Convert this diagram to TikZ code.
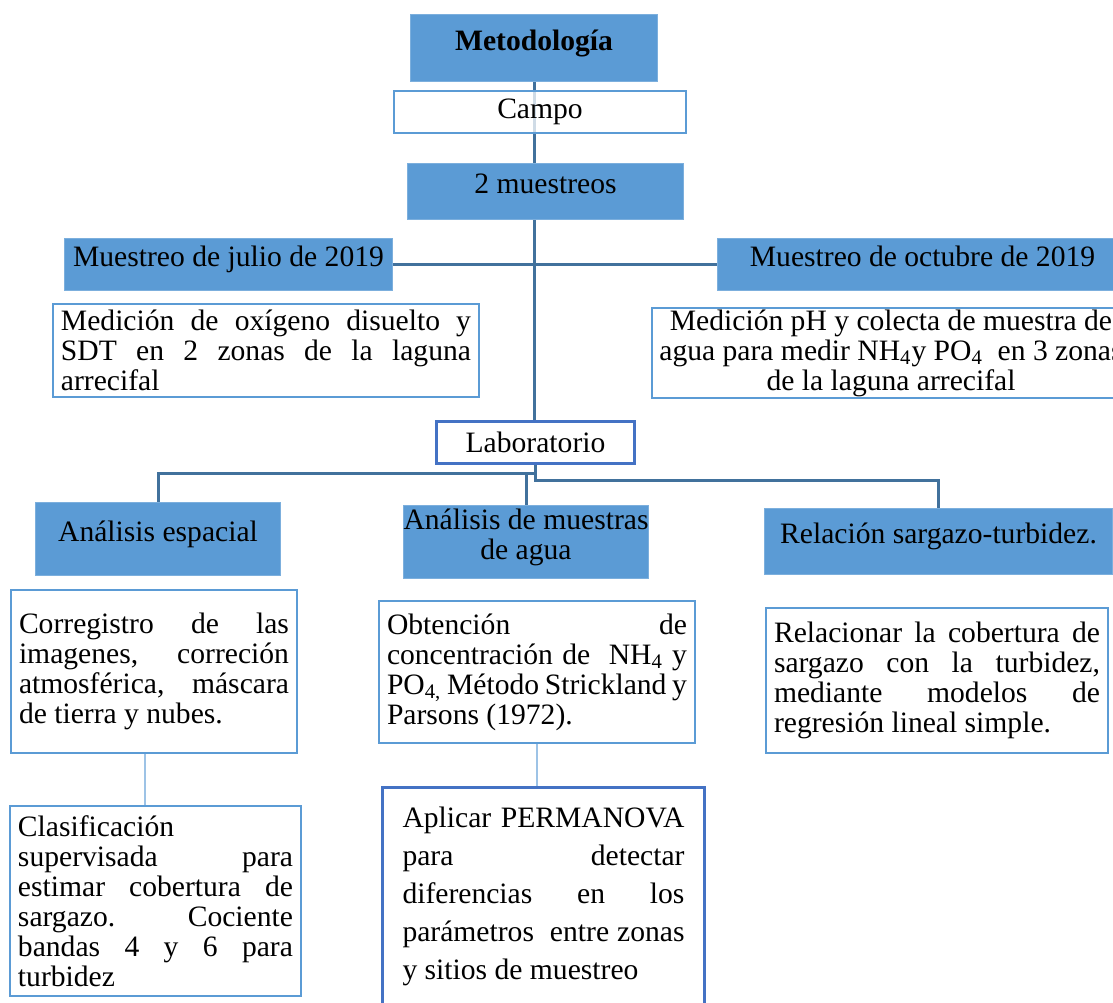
\documentclass[tikz,border=0pt]{standalone}
\usepackage{fontspec}
\setmainfont{Liberation Serif}
\usetikzlibrary{positioning,calc,backgrounds}
\definecolor{azul}{RGB}{91,155,213}
\definecolor{azulosc}{RGB}{65,113,156}
\definecolor{azulmed}{RGB}{68,114,196}
\definecolor{azulcla}{RGB}{157,195,230}
\hyphenpenalty=10000
\tolerance=10000

\tikzset{
  caja/.style={rectangle,anchor=north west,inner xsep=4pt,inner ysep=0pt,
    font=\fontsize{14.8}{15}\selectfont},
  lleno/.style={caja,fill=azul,draw=azul!80!white,line width=.5pt,align=center,text depth=8pt},
  blanca/.style={caja,fill=white,draw=azul,line width=1pt},
  just/.style={blanca,align=justify},
  con/.style={draw=azulosc,line width=1.5pt},
  confino/.style={draw=azulcla,line width=.75pt}
}

\begin{document}
\begin{tikzpicture}[x=0.5pt,y=-0.5pt]
	\useasboundingbox (0,0) rectangle (1113,1002);

	%CAMPO
	\node[lleno,minimum width=123.5pt,minimum height=33.5pt] (met) at (410,14) {\textbf{Metodología}};
	\node[blanca,fill opacity=.75,text opacity=1,minimum width=146pt,minimum height=21pt] (campo) at (393,90) {Campo};
	\node[lleno,minimum width=138pt,minimum height=28pt] (mue) at (407,163) {2 muestreos};
	\node[lleno,minimum width=164pt,minimum height=26pt] (jul) at (64,238) {Muestreo de julio de 2019};
	\node[lleno,minimum width=205pt,minimum height=26pt] (oct) at (717,238) {Muestreo de octubre de 2019};

	\node[just,minimum width=213pt,minimum height=46.5pt,text width=205pt] (ox) at (52,303)
		{Medición de oxígeno disuelto y\linebreak SDT en 2 zonas de la laguna\linebreak arrecifal};
	\node[blanca,align=center,inner xsep=1pt,minimum width=239pt,minimum height=45pt] (ph) at (651,307)
		{Medición pH y colecta de muestra de\\agua para medir NH\textsubscript{4}y PO\textsubscript{4}\ \ en 3 zonas\\de la laguna arrecifal};

	%LABORATORIO
	\node[blanca,draw=azulmed,line width=1.5pt,minimum width=99pt,minimum height=21pt] (lab) at (435,420) {Laboratorio};
	\node[lleno,minimum width=122.5pt,minimum height=36.5pt] (esp) at (35,502) {Análisis espacial};
	\node[lleno,inner xsep=0pt,minimum width=122.5pt,minimum height=36.5pt] (agua) at (403,505) {Análisis de muestras\\de agua};
	\node[lleno,minimum width=174pt,minimum height=33pt] (rel) at (764,508) {Relación sargazo-turbidez.};

	\node[just,minimum width=143pt,minimum height=81.5pt,text width=135pt] (cor) at (10,589)
		{Corregistro de las\linebreak imagenes, correción\linebreak atmosférica, máscara\linebreak de tierra y nubes.};
	\node[just,minimum width=157.5pt,minimum height=71pt,text width=150pt] (obt) at (378,600)
		{Obtención de\linebreak concentración de\ \ NH\textsubscript{4} y\linebreak PO\textsubscript{4,} Método Strickland y\linebreak Parsons (1972).};
	\node[just,minimum width=171pt,minimum height=72.5pt,text width=163pt] (rlc) at (765,607)
		{Relacionar la cobertura de\linebreak sargazo con la turbidez,\linebreak mediante modelos de\linebreak regresión lineal simple.};
	\node[just,minimum width=145.5pt,minimum height=95pt,text width=137.5pt] (cla) at (9,805)
		{Clasificación\linebreak supervisada para\linebreak estimar cobertura de\linebreak sargazo. Cociente\linebreak bandas 4 y 6 para\linebreak turbidez};
	\node[just,draw=azulmed,line width=1.5pt,inner xsep=10pt,font=\fontsize{14.8}{19}\selectfont,
		minimum width=161pt,minimum height=109pt,text width=141pt] (apl) at (381,786)
		{Aplicar PERMANOVA\linebreak para detectar\linebreak diferencias en los\linebreak parámetros\ \ entre zonas\linebreak y sitios de muestreo};

	%LINEAS
	\begin{pgfonlayer}{background}
		\draw[con] (met.south) -- (met.south |- lab.north);
	\end{pgfonlayer}
	\draw[con,line width=1.2pt] (jul.east) -- (oct.west);

	\coordinate (hub) at ($(lab.south)+(0,8)$);
	\draw[con] (lab.south) -- (hub) -| (esp.north);
	\draw[con] (hub -| agua.north) -- (agua.north);
	\draw[con] (hub) -- ++(0,7) -| (rel.north);

	\draw[confino] ([xshift=-4.5pt]cor.south) -- ([xshift=-4.5pt]cor.south |- cla.north);
	\draw[confino] (obt.south) -- (obt.south |- apl.north);
\end{tikzpicture}
\end{document}
